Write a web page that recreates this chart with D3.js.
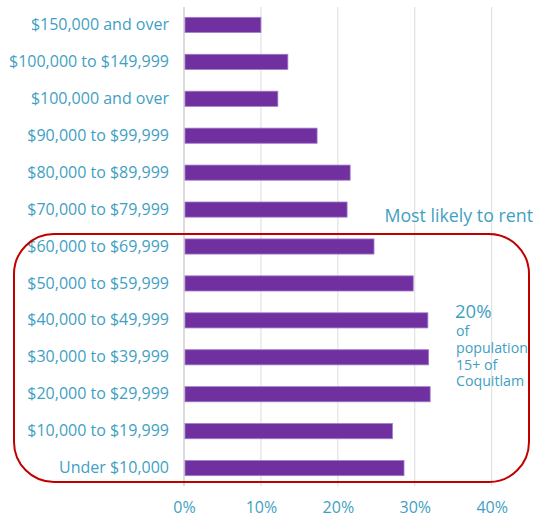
<!DOCTYPE html>
<html>
<head>
<meta charset="utf-8">
<script src="https://cdn.jsdelivr.net/npm/d3@7"></script>
<style>
  body { margin: 0; background: #fff; }
  svg { display: block; font-family: "Open Sans", sans-serif; }
</style>
</head>
<body>
<svg id="chart" width="534" height="516"></svg>
<script>
const categories = [
  '$150,000 and over',
  '$100,000 to $149,999',
  '$100,000 and over',
  '$90,000 to $99,999',
  '$80,000 to $89,999',
  '$70,000 to $79,999',
  '$60,000 to $69,999',
  '$50,000 to $59,999',
  '$40,000 to $49,999',
  '$30,000 to $39,999',
  '$20,000 to $29,999',
  '$10,000 to $19,999',
  'Under $10,000'
];
const values = [10.0, 13.5, 12.2, 17.3, 21.6, 21.2, 24.7, 29.8, 31.7, 31.8, 32.0, 27.1, 28.6];
const xTicks = [0, 10, 20, 30, 40];
const calloutTitle = 'Most likely to rent';
const calloutLines = ['of', 'population', '15+ of', 'Coquitlam'];
const calloutValue = '20%';

const textColor = '#3f9fc3';
const svg = d3.select('#chart');
const margin = { top: 7, right: 42, bottom: 30, left: 184 };
const width = +svg.attr('width');
const height = +svg.attr('height');

const x = d3.scaleLinear()
  .domain([0, 40])
  .range([margin.left, margin.left + 307.7]);

const y = d3.scaleBand()
  .domain(categories)
  .range([margin.top, height - margin.bottom])
  .paddingInner(0.59)
  .paddingOuter(0.28);

// gridlines
svg.append('g')
  .selectAll('line')
  .data(xTicks)
  .enter().append('line')
  .attr('x1', d => x(d))
  .attr('x2', d => x(d))
  .attr('y1', margin.top)
  .attr('y2', height - margin.bottom)
  .attr('stroke', d => d === 0 ? '#d0d0d0' : '#dcdcdc')
  .attr('stroke-width', d => d === 0 ? 1.5 : 1);

// bars
svg.selectAll('.bar')
  .data(values)
  .enter().append('rect')
  .attr('class', 'bar')
  .attr('x', x(0) + 1)
  .attr('y', (d, i) => y(categories[i]))
  .attr('width', d => x(d) - x(0) - 1)
  .attr('height', y.bandwidth())
  .attr('fill', '#7030a0')
  .attr('stroke', '#a07ccb')
  .attr('stroke-width', 0.8);

// x axis labels
const xAxis = svg.append('g')
  .attr('transform', `translate(0,${height - margin.bottom})`)
  .call(d3.axisBottom(x).tickValues(xTicks).tickFormat(d => d + '%').tickSize(0).tickPadding(16));
xAxis.select('.domain').remove();
xAxis.selectAll('text')
  .attr('fill', textColor)
  .style('font-size', '16px')
  .style('font-family', '"Open Sans", sans-serif');

// y axis labels
const yAxis = svg.append('g')
  .attr('transform', `translate(${margin.left},0)`)
  .call(d3.axisLeft(y).tickSize(0).tickPadding(15));
yAxis.select('.domain').remove();
yAxis.selectAll('text')
  .attr('fill', textColor)
  .style('font-size', '16px')
  .style('font-family', '"Open Sans", sans-serif');

// highlight box around lower income groups
svg.append('rect')
  .attr('x', 14)
  .attr('y', 234)
  .attr('width', 515)
  .attr('height', 248)
  .attr('rx', 40)
  .attr('ry', 40)
  .attr('fill', 'none')
  .attr('stroke', '#c00000')
  .attr('stroke-width', 2);

svg.append('text')
  .attr('x', 533)
  .attr('y', 222)
  .attr('text-anchor', 'end')
  .attr('fill', textColor)
  .style('font-size', '17.8px')
  .text(calloutTitle);

svg.append('text')
  .attr('x', 455)
  .attr('y', 318)
  .attr('fill', textColor)
  .style('font-size', '18.5px')
  .text(calloutValue);

svg.append('g')
  .selectAll('text')
  .data(calloutLines)
  .enter().append('text')
  .attr('x', 456)
  .attr('y', (d, i) => 336 + i * 16.8)
  .attr('fill', textColor)
  .style('font-size', '14.2px')
  .text(d => d);
</script>
</body>
</html>
